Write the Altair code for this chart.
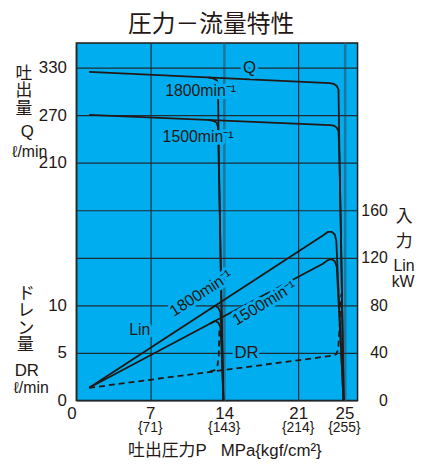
import altair as alt
import pandas as pd

# ---------------- data ----------------
# discharge flow Q (l/min) vs pressure P (MPa)
q1800_p = [1.22, 23.74, 24.08, 24.34, 24.49, 24.58, 24.71, 24.94]
q1800_q = [324.6, 310.4, 309.4, 306.9, 302.1, 212.5, 112.5, -90.0]
q1500_p = [1.22, 23.74, 24.08, 24.34, 24.49, 24.58, 24.71, 24.94]
q1500_q = [270.4, 257.5, 256.8, 254.4, 250.0, 212.5, 112.5, -90.0]
q1800s_p = [12.47, 12.98, 13.29, 13.41, 13.50, 13.73, 13.92]
q1800s_q = [317.6, 316.4, 314.0, 308.8, 212.5, 37.5, -90.0]
q1500s_p = [12.47, 12.98, 13.29, 13.41, 13.50, 13.73, 13.92]
q1500s_q = [264.0, 262.8, 260.3, 255.0, 200.0, 37.5, -90.0]

# input power Lin (kW)
lin1800_p = [1.22, 23.14, 23.57, 23.91, 24.17, 24.30, 24.60, 24.92]
lin1800_kw = [10.6, 138.8, 141.7, 141.8, 139.6, 134.2, 68.3, 0.0]
lin1500_p = [1.22, 23.14, 23.57, 23.91, 24.17, 24.34, 24.64, 24.92]
lin1500_kw = [10.6, 115.0, 118.1, 118.8, 117.1, 112.5, 55.8, 0.0]
lin1800s_p = [12.66, 13.12, 13.45, 13.64, 13.73, 13.92]
lin1800s_kw = [76.8, 79.6, 77.9, 74.2, 60.0, 0.0]
lin1500s_p = [12.66, 13.12, 13.45, 13.64, 13.73, 13.92]
lin1500s_kw = [64.6, 66.8, 65.4, 61.3, 47.5, 0.0]

# drain flow DR (l/min)
dr_p = [1.22, 23.91, 24.30, 24.47, 24.60, 24.73]
dr_l = [1.32, 4.69, 4.84, 5.42, 8.02, 11.15]
drs_p = [12.63, 13.08, 13.36, 13.48, 13.55]
drs_l = [3.00, 3.18, 3.65, 4.58, 7.50]

# axis ticks / labels
x_ticks = [0, 7, 14, 21, 25]
brace_pos = [7, 14, 21, 25]
brace_text = ["{71}", "{143}", "{214}", "{255}"]
left_vals = [0, 40, 80, 120, 160, 200, 240, 280]
left_text = ["0", "5", "10", "", "", "210", "270", "330"]
right_vals = [0, 40, 80, 120, 160]

# in-plot labels
lab_text = ["Q", "1800min⁻¹", "1500min⁻¹", "Lin", "DR", "1800min⁻¹", "1500min⁻¹"]
lab_p = [16.41, 11.77, 11.53, 6.0, 16.12, 11.81, 17.81]
lab_y = [280, 260, 221.7, 59.4, 40, 90, 81.7]
lab_angle = [0, 0, 0, 0, 0, 327, 329]
lab_size = [17, 16, 16, 16, 17, 16, 16]

# titles outside the plot
out_text = ["圧力－流量特性", "吐", "出", "量", "Q", "ℓ/min",
            "ド", "レ", "ン", "量", "DR", "ℓ/min",
            "入", "力", "Lin", "kW", "吐出圧力P\u00a0\u00a0\u00a0MPa{kgf/cm²}"]
out_x = [136, -53, -53, -53, -49.5, -47, -50.5, -51, -51, -51.5, -50, -45.5,
         331, 331, 331, 330, 150]
out_y = [-18.5, 31.5, 49, 67, 90, 110, 254, 271, 289, 305, 331.5, 349,
         176, 201, 225, 242, 412]
out_size = [24, 17, 17, 17, 17, 16, 17, 17, 17, 17, 17, 16, 17, 17, 16, 16, 17]

# ---------------- styling ----------------
BG = "#00AEEF"
INK = "#231815"
GRID = "#1f2d33"
TEAL = "#1b77a0"
FONT = "Liberation Sans, Arial, Noto Sans CJK JP, sans-serif"
W, H = 284, 361


def frame(series, kind, ps, vs):
    return pd.DataFrame({"series": series, "kind": kind, "p": ps, "v": vs,
                         "i": list(range(len(ps)))})


curves = pd.concat([
    frame("Q1800", "Q", q1800_p, q1800_q),
    frame("Q1500", "Q", q1500_p, q1500_q),
    frame("Q1800s", "Q", q1800s_p, q1800s_q),
    frame("Q1500s", "Q", q1500s_p, q1500s_q),
    frame("L1800", "Lin", lin1800_p, lin1800_kw),
    frame("L1500", "Lin", lin1500_p, lin1500_kw),
    frame("L1800s", "Lin", lin1800s_p, lin1800s_kw),
    frame("L1500s", "Lin", lin1500s_p, lin1500s_kw),
    frame("DR", "DR", dr_p, dr_l),
    frame("DRs", "DR", drs_p, drs_l),
], ignore_index=True)

xscale = alt.Scale(domain=[0, 21, 25, 26.14], range=[0, 224, 270.7, W])
yscale = alt.Scale(domain=[0, 300.8], nice=False, zero=False)

c1425 = "datum.value === 14 || datum.value === 25"
xaxis = alt.Axis(values=x_ticks, title=None, domain=False, ticks=False, grid=True,
                 gridColor={"condition": {"test": c1425, "value": TEAL}, "value": GRID},
                 gridWidth={"condition": {"test": c1425, "value": 2.6}, "value": 1.2},
                 gridOpacity=1,
                 labelFont=FONT, labelFontSize=17, labelColor=INK, labelPadding=5,
                 labelFlush=False, labelOverlap=False,
                 labelOffset={"condition": {"test": "datum.value === 0", "value": -5}, "value": 0})

expr = "''"
for v, t in zip(reversed(left_vals), reversed(left_text)):
    expr = f"datum.value === {v} ? '{t}' : ({expr})"

yaxis_left = alt.Axis(values=left_vals, labelExpr=expr, title=None, domain=False,
                      ticks=False, grid=True, gridColor=GRID, gridWidth=1.2, gridOpacity=1,
                      labelFont=FONT, labelFontSize=17, labelColor=INK, labelPadding=10,
                      labelFlush=False, labelOverlap=False)
yaxis_right = alt.Axis(orient="right", values=right_vals, title=None, domain=False,
                       ticks=False, grid=False, labelFont=FONT, labelFontSize=16,
                       labelColor=INK, labelAlign="right", labelPadding=30,
                       labelFlush=False, labelOverlap=False)


def xenc():
    return alt.X("p:Q", scale=xscale, axis=xaxis)


to_plot = ("datum.kind === 'Q' ? (datum.v - 210) / 1.5 + 200 : "
           "(datum.kind === 'DR' ? datum.v * 8 : datum.v)")

base = alt.Chart(curves).transform_calculate(yu=to_plot)

q_layer = base.transform_filter("datum.kind === 'Q'").mark_line(
    color=INK, strokeWidth=1.8).encode(
    x=xenc(), y=alt.Y("yu:Q", scale=yscale, axis=yaxis_left),
    detail="series:N", order="i:Q")

lin_layer = base.transform_filter("datum.kind === 'Lin'").mark_line(
    color=INK, strokeWidth=1.8).encode(
    x=xenc(), y=alt.Y("yu:Q", scale=yscale, axis=yaxis_right),
    detail="series:N", order="i:Q")

dr_layer = base.transform_filter("datum.kind === 'DR'").mark_line(
    color=INK, strokeWidth=1.8, strokeDash=[6, 4]).encode(
    x=xenc(), y=alt.Y("yu:Q", scale=yscale, axis=None),
    detail="series:N", order="i:Q")

labels = pd.DataFrame({"t": lab_text, "p": lab_p, "y": lab_y,
                       "a": lab_angle, "fs": lab_size})
lab_enc = dict(x=xenc(), y=alt.Y("y:Q", scale=yscale, axis=None), text="t:N",
               angle=alt.Angle("a:Q", scale=None), size=alt.Size("fs:Q", scale=None))
halo = alt.Chart(labels).mark_text(font=FONT, color=BG, stroke=BG, strokeWidth=6,
                                   strokeJoin="round", baseline="middle").encode(**lab_enc)
lab_layer = alt.Chart(labels).mark_text(font=FONT, color=INK,
                                        baseline="middle").encode(**lab_enc)

braces = pd.DataFrame({"p": brace_pos, "t": brace_text})
brace_layer = alt.Chart(braces).mark_text(font=FONT, fontSize=14, color=INK,
                                          baseline="middle").encode(
    x=xenc(), y=alt.value(389), text="t:N")

outside = pd.DataFrame({"t": out_text, "px": out_x, "py": out_y, "fs": out_size})
out_layer = alt.Chart(outside).mark_text(font=FONT, color=INK, baseline="middle").encode(
    x=alt.X("px:Q", scale=None, axis=None), y=alt.Y("py:Q", scale=None, axis=None),
    text="t:N", size=alt.Size("fs:Q", scale=None))

chart = alt.layer(
    q_layer, lin_layer, dr_layer, halo, lab_layer, brace_layer, out_layer
).resolve_axis(y="independent").properties(
    width=W, height=H,
    autosize=alt.AutoSizeParams(type="none"),
    padding={"left": 69, "top": 33, "right": 58, "bottom": 62},
).configure_view(fill=BG, stroke=INK, strokeWidth=1.5)

chart.save("out.html", embed_options={"renderer": "svg", "actions": False})
